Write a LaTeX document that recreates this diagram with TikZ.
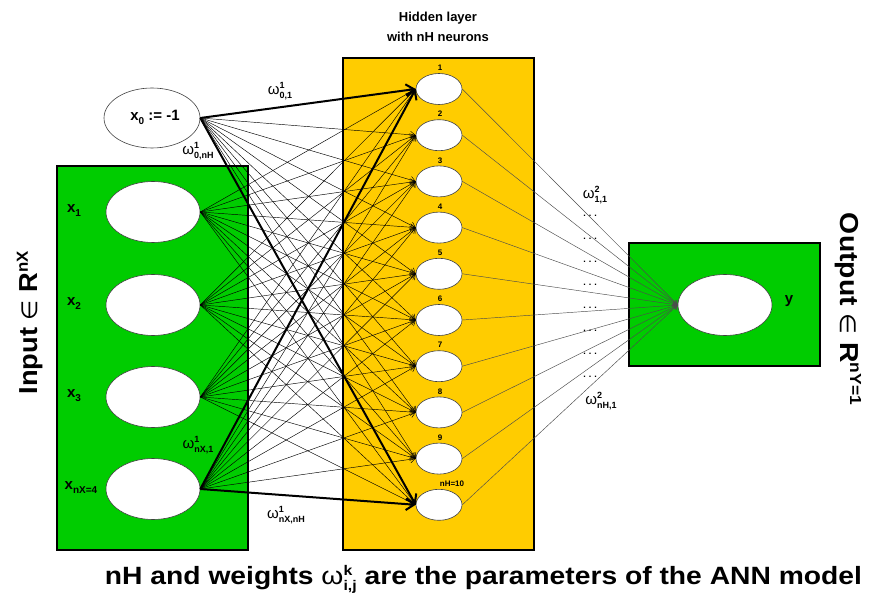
\documentclass[tikz,border=0pt]{standalone}
\usepackage{fontspec}
\setmainfont{Liberation Sans}
\newfontfamily\dejavu{DejaVu Sans}
\usetikzlibrary{shapes.geometric,arrows.meta}
\definecolor{ingreen}{RGB}{0,204,0}
\definecolor{hidyellow}{RGB}{255,204,0}
\newcommand{\fs}[1]{\fontsize{#1}{#1}\selectfont}
\newcommand{\wgt}[2]{{\fs{15}\mdseries ω}\raisebox{-4pt}{\fontsize{9}{10}\selectfont\bfseries\begin{tabular}[b]{@{}l@{}}#1\\#2\end{tabular}}}
\newcommand{\wgtb}[2]{{\mdseries ω}\raisebox{-6pt}{\fontsize{14}{15}\selectfont\bfseries\begin{tabular}[b]{@{}l@{}}#1\\#2\end{tabular}}}
\newcommand{\xsub}[1]{x\raisebox{-4pt}{\fs{10}#1}}
\begin{document}
\begin{tikzpicture}[x=1pt,y=-1pt,
  neuron/.style={ellipse, draw=black!75, fill=white, line width=0.6pt, inner sep=0pt},
  inneuron/.style={neuron, minimum width=94pt, minimum height=61pt},
  hidneuron/.style={neuron, minimum width=46pt, minimum height=31pt},
  layerbox/.style={draw=black, line width=1.5pt},
  conn/.style={line width=0.45pt, -{Straight Barb[length=5pt,width=7pt]}},
  boldconn/.style={line width=2pt, -{Straight Barb[length=8pt,width=12pt]}},
  outconn/.style={line width=0.45pt, draw=black!70, -{Straight Barb[length=4pt,width=6pt]}},
  lab/.style={font=\bfseries\fs{15}},
  numlab/.style={font=\bfseries\fs{8}, inner sep=0pt},
  ]
\useasboundingbox (0,0) rectangle (875,601);
\fill[white] (0,0) rectangle (875,601);
% layer boxes
\draw[layerbox, fill=ingreen] (57,166) rectangle (248,550);
\draw[layerbox, fill=hidyellow] (343,58) rectangle (534,550);
\draw[layerbox, fill=ingreen] (629,243) rectangle (820,366);
% input neurons
\node[neuron, minimum width=96pt, minimum height=60pt] (x0) at (152,118) {};
\node[lab] (x0lab) at (155,117) {\xsub{0} := -1};
\node[inneuron] (x1) at (153,212) {};
\node[inneuron] (x2) at (153,305) {};
\node[inneuron] (x3) at (153,397) {};
\node[inneuron] (x4) at (153,489) {};
\node[lab] (x1lab) at (74,211) {\xsub{1}};
\node[lab] (x2lab) at (74,304) {\xsub{2}};
\node[lab] (x3lab) at (74,396) {\xsub{3}};
\node[lab] (x4lab) at (81,488) {\xsub{nX=4}};
% hidden neurons
\foreach \i in {1,...,10} {
  \node[hidneuron] (h\i) at (439,{89+46.2*(\i-1)}) {};
}
\foreach \i in {1,...,9} {
  \node[numlab] (hl\i) at (440,{68+46.2*(\i-1)}) {\i};
}
\node[numlab] (hl10) at (452,484) {nH=10};
% output neuron
\node[inneuron] (y) at (725,305) {};
\node[lab] (ylab) at (789,301) {y};
% thin connections input -> hidden
\foreach \s in {x1,x2,x3} {
  \foreach \t in {1,...,10} {
    \draw[conn] (\s.east) -- (h\t.west);
  }
}
\foreach \s in {x0,x4} {
  \foreach \t in {2,...,9} {
    \draw[conn] (\s.east) -- (h\t.west);
  }
}
% bold connections
\draw[boldconn] (x0.east) -- (h1.west);
\draw[boldconn] (x0.east) -- (h10.west);
\draw[boldconn] (x4.east) -- (h1.west);
\draw[boldconn] (x4.east) -- (h10.west);
% hidden -> output
\foreach \i in {1,...,10} {
  \draw[outconn] (h\i.east) -- (y.west);
}
% dots
\foreach \k in {0,...,7} {
  \node[font=\bfseries\fs{9}, inner sep=0pt] (dots\k) at (590,{216+23*\k}) {.\,\,.\,\,.};
}
% weight labels
\node (w01) at (280,92) {\wgt{1}{0,1}};
\node (w0nH) at (198,152) {\wgt{1}{0,nH}};
\node (wnX1) at (198,445) {\wgt{1}{nX,1}};
\node (wnXnH) at (286,515) {\wgt{1}{nX,nH}};
\node (w211) at (595,196) {\wgt{2}{1,1}};
\node (w2nH1) at (601,401) {\wgt{2}{nH,1}};
% titles
\node[font=\bfseries\fs{13}, align=center, inner sep=0pt] (hidtitle) at (438,27) {Hidden layer\\[7pt]with nH neurons};
\node[rotate=90, font=\bfseries\fs{26}, inner sep=0pt] (inlabel) at (30,323)
  {\resizebox{143pt}{\height}{Input {\mdseries\dejavu\fs{22}∈} R\raisebox{10pt}{\fs{16}nX}}};
\node[rotate=-90, font=\bfseries\fs{26}, inner sep=0pt] (outlabel) at (848,309)
  {\resizebox{192pt}{\height}{Output {\mdseries\dejavu\fs{22}∈} R\raisebox{10pt}{\fs{16}nY=1}}};
\node[anchor=base, font=\bfseries\fs{25}, inner sep=0pt] (caption) at (483.5,584)
  {\resizebox{757pt}{\height}{nH and weights \wgtb{k}{i,j} are the parameters of the ANN model}};
\end{tikzpicture}
\end{document}
